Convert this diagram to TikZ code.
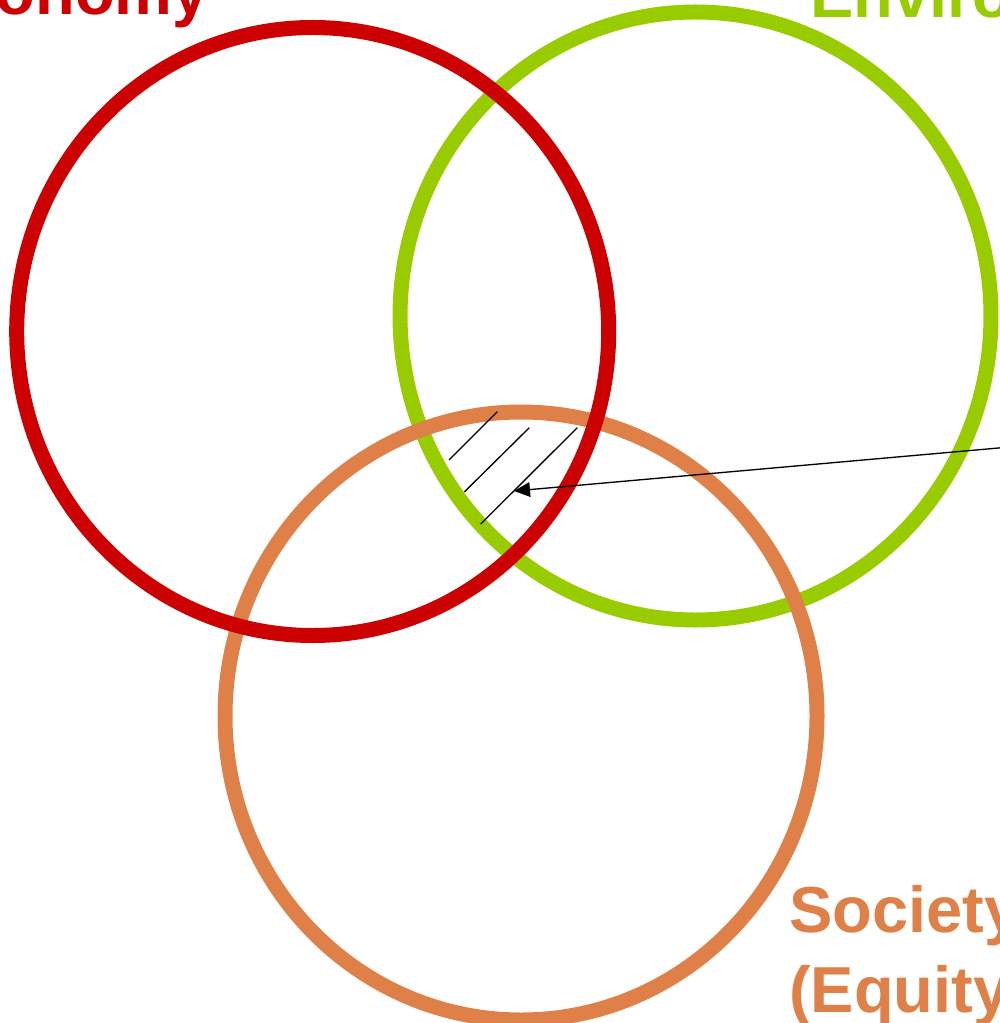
\documentclass[tikz,border=0pt]{standalone}
\usepackage{fontspec}
\setmainfont{Liberation Sans}
\usetikzlibrary{arrows.meta}
\definecolor{ecored}{RGB}{204,0,0}
\definecolor{envgreen}{RGB}{153,204,0}
\definecolor{socorange}{RGB}{222,128,72}
\tikzset{
  ring/.style={line width=11.25pt},
  label/.style={font=\fontsize{48.75}{60}\selectfont\bfseries, inner sep=0pt},
  hatch/.style={line width=1pt, black},
  pointer/.style={line width=1pt, black, -{Triangle[length=12pt,width=11pt]}}
}
\begin{document}
\begin{tikzpicture}[x=0.75pt,y=-0.75pt]
\useasboundingbox (0,0) rectangle (999,1023);
% circles (centres)
\coordinate (cEco) at (312.7,331.5);
\coordinate (cEnv) at (695.5,316);
\coordinate (cSoc) at (521,716);
\draw[ring, envgreen] (cEnv) ellipse [x radius=221.6pt, y radius=228pt];
\draw[ring, socorange] (cSoc) ellipse [x radius=222pt, y radius=228pt];
\draw[ring, ecored] (cEco) ellipse [x radius=222pt, y radius=228pt];
% hatching
\coordinate (h1a) at (497.3,411.7); \coordinate (h1b) at (449,460);
\coordinate (h2a) at (529.3,427.7); \coordinate (h2b) at (464.3,492);
\coordinate (h3a) at (577.3,427.7); \coordinate (h3b) at (480.7,524);
\draw[hatch] (h1a) -- (h1b);
\draw[hatch] (h2a) -- (h2b);
\draw[hatch] (h3a) -- (h3b);
% arrow
\coordinate (arrowstart) at (1012,446.8);
\coordinate (arrowtip) at (514,491);
\draw[pointer] (arrowstart) -- (arrowtip);
% labels
\node[label, text=ecored, anchor=base east] (eco) at (209,15) {Economy};
\node[label, text=envgreen, anchor=base west] (env) at (810,18) {Environment};
\node[label, text=socorange, anchor=base west] (soc1) at (789,932) {Society};
\node[label, text=socorange, anchor=base west] (soc2) at (789,1012) {(Equity)};
\end{tikzpicture}
\end{document}
